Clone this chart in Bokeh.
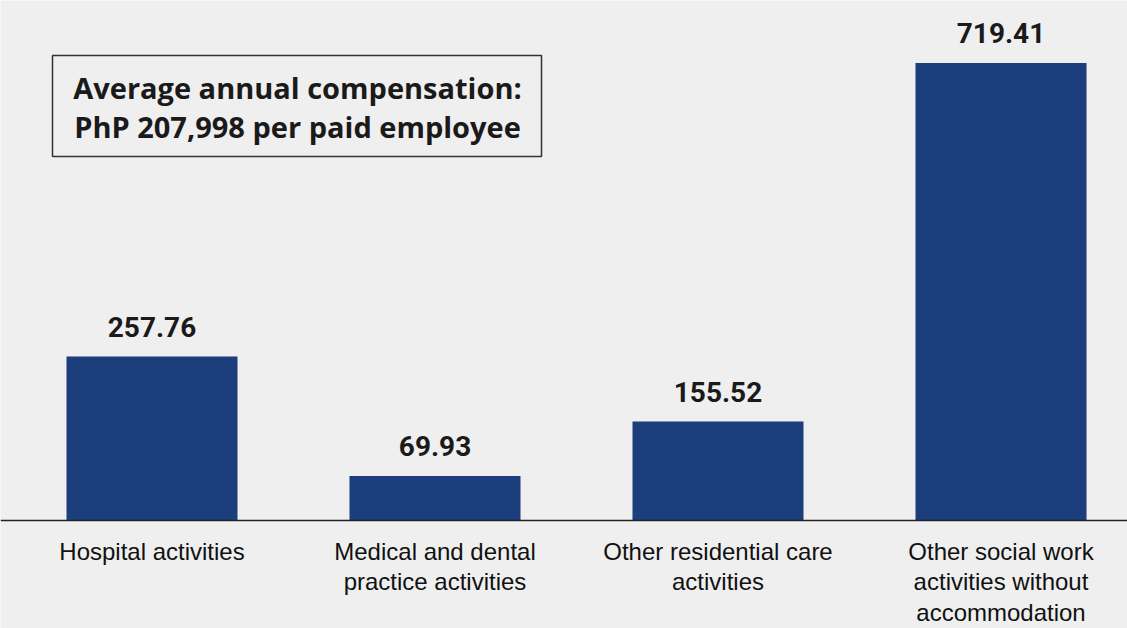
from bokeh.plotting import figure
from bokeh.models import Range1d, Label, BoxAnnotation, Span, ColumnDataSource
from bokeh.core.properties import value
from bokeh.embed import file_html
from bokeh.resources import INLINE

categories = ["Hospital activities", "Medical and dental\npractice activities",
              "Other residential care\nactivities", "Other social work\nactivities without\naccommodation"]
values = [257.76, 69.93, 155.52, 719.41]
value_labels = ["257.76", "69.93", "155.52", "719.41"]
title_lines = "Average annual compensation:\nPhP 207,998 per paid employee"

W, H = 1127, 628
PX_PER_X = 283.0
X0 = -151.5 / PX_PER_X
BASE_PY = 520.0
PX_PER_Y = 0.636

def dx(px):
    return X0 + px / PX_PER_X

def dy(py):
    return (BASE_PY - py) / PX_PER_Y

BG = "#efefef"
p = figure(width=W, height=H, output_backend="svg", toolbar_location=None,
           x_range=Range1d(dx(0), dx(W)), y_range=Range1d(dy(H), dy(0)),
           min_border=0, background_fill_color=BG, border_fill_color=BG,
           outline_line_color=None)
p.axis.visible = False
p.grid.visible = False

xs = list(range(len(categories)))
src = ColumnDataSource(dict(x=xs, top=values, cat=categories, lab=value_labels))
p.vbar(x="x", top="top", bottom=0, width=171 / PX_PER_X, source=src,
       fill_color="#1c3e7d", line_color=None)

p.text(x="x", y="top", text="lab", source=src, text_align="center",
       text_baseline="middle", y_offset=-30, text_font=value("Roboto"),
       text_font_style="bold", text_font_size="28px", text_color="#1a1a1a")

p.text(x="x", y=0, text="cat", source=src, text_align="center",
       text_baseline="top", y_offset=17, text_font=value("Liberation Sans"),
       text_font_size="24px", text_color="#111111", text_line_height=1.13)

p.add_layout(Span(location=0, dimension="width", line_color="#222222", line_width=1.5))

p.add_layout(BoxAnnotation(left=dx(52), right=dx(541), top=dy(55), bottom=dy(156),
                           fill_color=None, fill_alpha=0, line_color="#333333",
                           line_alpha=1.0, line_width=1.5))
p.add_layout(Label(x=dx(297), y=dy(106), text=title_lines, text_align="center",
                   text_baseline="middle", text_font="Open Sans", text_font_style="bold",
                   text_font_size="29px", text_color="#1a1a1a", text_line_height=1.0))

html = file_html(p, INLINE)
html = html.replace("<body>", '<body style="background:%s">' % BG, 1)
open("out.html", "w").write(html)
